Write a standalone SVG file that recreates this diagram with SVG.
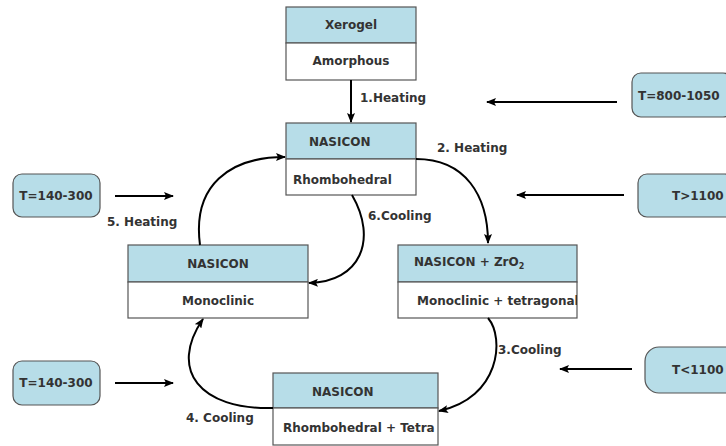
<svg xmlns="http://www.w3.org/2000/svg" width="726" height="446" viewBox="0 0 726 446">
<defs>
<marker id="ah" markerWidth="10" markerHeight="8" refX="9" refY="4" orient="auto" markerUnits="userSpaceOnUse">
<path d="M0,0 L10,4 L0,8 L2,4 Z" fill="#000"/>
</marker>
<style>
.hd{fill:#b7dde8;stroke:#555;stroke-width:1.2}
.bd{fill:#fff;stroke:#555;stroke-width:1.2}
.tb{fill:#b7dde8;stroke:#555;stroke-width:1.2}
text{font-family:"DejaVu Sans",Verdana,sans-serif;font-size:12px;font-weight:bold;fill:#333}
.c{stroke:#000;stroke-width:2;fill:none;marker-end:url(#ah)}
</style>
</defs>
<rect width="726" height="446" fill="#fff"/>
<g id="xerogel">
<rect class="hd" x="286" y="7" width="130" height="36"/>
<rect class="bd" x="286" y="43" width="130" height="37"/>
<text x="351" y="29" text-anchor="middle">Xerogel</text>
<text x="351" y="65" text-anchor="middle">Amorphous</text>
</g>
<g id="nasicon-rhombo">
<rect class="hd" x="286" y="123" width="130" height="36"/>
<rect class="bd" x="286" y="159" width="130" height="36"/>
<text x="309" y="146">NASICON</text>
<text x="293" y="184">Rhombohedral</text>
</g>
<g id="nasicon-mono">
<rect class="hd" x="128" y="245" width="180" height="37"/>
<rect class="bd" x="128" y="282" width="180" height="36"/>
<text x="218" y="268" text-anchor="middle">NASICON</text>
<text x="218" y="305" text-anchor="middle">Monoclinic</text>
</g>
<g id="nasicon-zro2">
<rect class="hd" x="398" y="245" width="179" height="37"/>
<rect class="bd" x="398" y="282" width="179" height="36"/>
<text x="414" y="266">NASICON + ZrO<tspan font-size="8" dy="3">2</tspan></text>
<svg x="398" y="282" width="179" height="36" overflow="hidden"><text x="19" y="23">Monoclinic + tetragonal</text></svg>
</g>
<g id="nasicon-tetra">
<rect class="hd" x="273" y="373" width="165" height="35"/>
<rect class="bd" x="273" y="408" width="165" height="37"/>
<text x="312" y="396">NASICON</text>
<svg x="273" y="408" width="165" height="37" overflow="hidden"><text x="10" y="24">Rhombohedral + Tetra</text></svg>
</g>
<g id="t1">
<rect class="tb" x="13" y="174" width="87" height="43" rx="9"/>
<text x="56" y="200" text-anchor="middle">T=140-300</text>
</g>
<g id="t2">
<rect class="tb" x="13" y="361" width="87" height="44" rx="9"/>
<text x="56" y="387" text-anchor="middle">T=140-300</text>
</g>
<g id="t3">
<rect class="tb" x="632" y="73" width="100" height="44" rx="9"/>
<text x="638" y="100">T=800-1050</text>
</g>
<g id="t4">
<rect class="tb" x="638" y="174" width="96" height="43" rx="9"/>
<text x="672" y="200">T&gt;1100</text>
</g>
<g id="t5">
<rect class="tb" x="645" y="347" width="100" height="46" rx="14"/>
<text x="672" y="374">T&lt;1100</text>
</g>
<g id="connectors">
<path class="c" d="M351,80 L351,122"/>
<path class="c" d="M416,159 C465,159 488,195 488,243"/>
<path class="c" d="M488,318 C505,338 500,398 439,411"/>
<path class="c" d="M273,408 C200,410 168,370 203,319"/>
<path class="c" d="M200,245 C192,185 230,157 285,157"/>
<path class="c" d="M352,195 C378,240 360,282 309,283"/>
<path class="c" d="M115,196 L173,196"/>
<path class="c" d="M115,383 L173,383"/>
<path class="c" d="M617,102 L487,102"/>
<path class="c" d="M624,195 L517,195"/>
<path class="c" d="M632,369 L560,369"/>
</g>
<g id="labels">
<text x="360" y="102">1.Heating</text>
<text x="437" y="152">2. Heating</text>
<text x="498" y="354">3.Cooling</text>
<text x="186" y="422">4. Cooling</text>
<text x="107" y="226">5. Heating</text>
<text x="368" y="220">6.Cooling</text>
</g>
</svg>
